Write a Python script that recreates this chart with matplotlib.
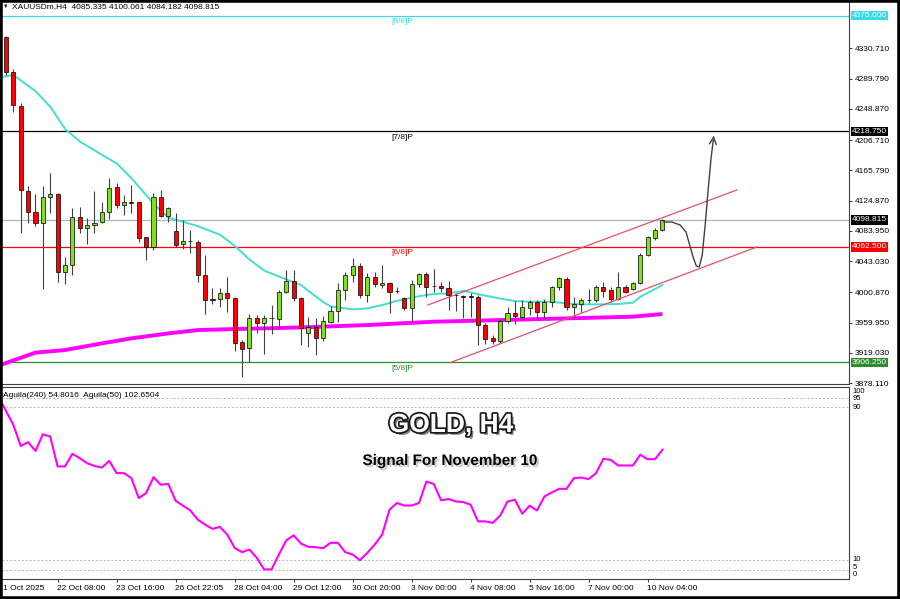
import numpy as np
import matplotlib.pyplot as plt
import matplotlib.patheffects as pe
import matplotlib.transforms as mtransforms
from matplotlib.patches import Rectangle

plt.rcParams['font.family'] = ['Liberation Sans', 'DejaVu Sans']

# H4 candles, XAUUSDm
opens = np.array([4345.8, 4298.4, 4253.4, 4138.4, 4109.1, 4094.3, 4129.4, 4133.5, 4028.0, 4037.9,
                  4102.4, 4087.5, 4092.0, 4095.6, 4110.0, 4143.0, 4119.0, 4122.2, 4123.6, 4076.2,
                  4061.8, 4130.3, 4104.6, 4084.4, 4066.3, 4070.6, 4069.5, 4024.4, 3991.5, 3991.5,
                  3999.6, 3993.8, 3934.3, 3925.3, 3965.8, 3960.0, 3965.8, 3964.5, 4001.9, 4016.7,
                  3992.9, 3946.4, 3954.5, 3938.8, 3961.3, 3976.2, 4004.1, 4024.4, 4036.6, 3997.4,
                  4022.1, 4010.4, 4013.1, 4002.8, 3992.9, 3979.3, 4012.2, 4025.7, 4009.5, 4009.5,
                  4006.4, 3997.6, 3995.3, 3995.3, 3995.1, 3956.8, 3939.7, 3935.6, 3962.6, 3973.5,
                  3968.1, 3979.3, 3988.3, 3974.8, 3988.3, 4007.7, 4019.0, 3980.7, 3985.2, 3990.6,
                  3990.6, 4008.6, 4004.1, 3991.5, 4007.7, 4005.0, 4013.1, 4051.4, 4074.9, 4085.335])
highs = np.array([4347.5, 4302.5, 4257.4, 4144.8, 4133.5, 4144.8, 4161.9, 4135.7, 4048.3, 4114.5,
                  4116.8, 4101.0, 4138.4, 4123.6, 4155.1, 4149.3, 4132.6, 4146.1, 4123.6, 4076.2,
                  4134.8, 4139.3, 4116.0, 4108.7, 4098.8, 4085.3, 4071.7, 4051.4, 4006.4, 4006.4,
                  4021.3, 3995.1, 3936.5, 3971.2, 3970.3, 3970.3, 3983.8, 4004.1, 4031.2, 4031.2,
                  3995.1, 3968.1, 3965.8, 3968.9, 3982.5, 4014.0, 4028.9, 4046.9, 4040.2, 4026.6,
                  4028.9, 4037.9, 4015.4, 4008.6, 3995.1, 4017.6, 4027.5, 4028.9, 4032.1, 4015.4,
                  4016.7, 4000.5, 3997.4, 3999.6, 3997.4, 3959.0, 3943.3, 3964.5, 3980.7, 3989.7,
                  3990.6, 3990.6, 3990.6, 3991.5, 4009.5, 4021.3, 4021.3, 3995.1, 3992.8, 4005.0,
                  4010.9, 4015.4, 4008.6, 4028.9, 4010.9, 4015.4, 4054.6, 4077.1, 4087.5, 4100.061])
lows = np.array([4294.8, 4245.3, 4081.7, 4094.3, 4090.7, 4005.0, 4107.8, 4015.4, 4012.2, 4024.4,
                 4080.8, 4066.3, 4080.8, 4094.3, 4099.7, 4115.5, 4105.5, 4107.8, 4069.5, 4044.7,
                 4058.2, 4102.4, 4096.5, 4062.7, 4059.1, 4054.6, 4015.4, 3971.7, 3985.2, 3980.7,
                 3974.8, 3922.1, 3886.9, 3907.2, 3945.5, 3917.2, 3944.6, 3952.3, 3999.6, 3989.3,
                 3929.8, 3927.5, 3916.2, 3935.6, 3959.0, 3961.3, 3990.6, 4015.4, 3992.8, 3988.3,
                 4007.7, 4006.4, 3972.6, 3999.6, 3977.1, 3962.6, 4007.7, 3995.1, 4001.9, 4001.9,
                 3977.1, 3976.2, 3965.8, 3968.1, 3929.8, 3931.1, 3931.1, 3932.9, 3959.0, 3958.1,
                 3964.5, 3970.3, 3965.8, 3965.8, 3981.6, 4004.1, 3977.1, 3968.1, 3974.8, 3987.0,
                 3988.3, 3995.1, 3988.3, 3990.6, 3999.6, 4004.1, 4012.2, 4050.1, 4071.7, 4084.182])
closes = np.array([4298.4, 4254.3, 4139.3, 4109.1, 4094.3, 4129.4, 4133.9, 4028.0, 4037.9, 4102.4,
                   4087.5, 4092.0, 4094.3, 4110.0, 4142.5, 4119.0, 4123.6, 4122.0, 4074.0, 4061.8,
                   4130.3, 4104.6, 4114.5, 4065.0, 4070.8, 4070.2, 4024.4, 3990.6, 3991.0, 3999.6,
                   3992.9, 3932.9, 3923.9, 3965.8, 3960.0, 3965.8, 3966.2, 4001.9, 4016.7, 3992.9,
                   3952.3, 3954.5, 3938.8, 3962.6, 3976.2, 4004.1, 4024.4, 4036.6, 3997.4, 4022.1,
                   4012.2, 4013.1, 4001.9, 4002.3, 3979.3, 4012.2, 4025.7, 4007.7, 4009.0, 4006.4,
                   3997.4, 3997.2, 3995.1, 3995.0, 3956.8, 3937.4, 3935.6, 3962.6, 3973.5, 3969.0,
                   3980.7, 3988.3, 3974.8, 3988.3, 4007.7, 4019.9, 3980.7, 3985.2, 3990.6, 3991.0,
                   4007.7, 4003.2, 3991.5, 4007.7, 4001.9, 4013.1, 4051.4, 4075.3, 4085.3, 4098.815])

# moving averages (bar index, value)
ma_fast_idx = [-1, 1, 4, 6, 8, 10, 13, 15, 17, 20, 22, 24, 26, 29, 31, 33, 35, 38, 40, 41, 43,
               44, 47, 49, 51, 53, 56, 58, 60, 62, 65, 67, 69, 71, 74, 76, 78, 80, 83, 85, 86, 89]
ma_fast = [4291.5, 4294.8, 4273.0, 4252.0, 4222.0, 4205.0, 4187.0, 4175.4, 4155.5, 4121.0, 4102.0,
           4096.5, 4090.5, 4079.0, 4064.0, 4045.5, 4030.5, 4018.5, 4010.9, 4003.0, 3988.0,
           3982.0, 3978.0, 3979.3, 3983.8, 3989.5, 3995.8, 3998.8, 3999.6, 4003.0, 3996.5,
           3992.7, 3989.2, 3988.3, 3988.3, 3986.0, 3984.7, 3984.7, 3985.2, 3987.0, 3995.0, 4010.9]
ma_slow_idx = [-1, 4, 8, 13, 17, 22, 26, 31, 35, 40, 49, 58, 67, 76, 85, 89]
ma_slow = [3902.0, 3919.5, 3923.0, 3932.0, 3938.8, 3945.5, 3950.0, 3951.4, 3952.3, 3953.6,
           3956.8, 3961.3, 3963.5, 3965.8, 3968.1, 3971.7]

# Murrey levels
levels = [4375.0, 4218.75, 4062.5, 3906.25]
level_names = ['[8/8]P', '[7/8]P', '[6/8]P', '[5/8]P']
level_colors = ['#33dde8', '#000000', '#ff0000', '#2e8b2e']
bid = 4098.815

price_ticks = [4330.710, 4289.790, 4248.870, 4206.710, 4165.790, 4124.870,
               4083.950, 4043.030, 4000.870, 3959.950, 3919.030, 3878.110]

# channel (bar index, price)
chan_upper = ([57.2, 99.1], [3983.9, 4139.4])
chan_lower = ([60.2, 101.8], [3905.9, 4062.3])

# forecast path
fc_x = [89.2, 90.3, 91.4, 92.2, 92.7, 93.2, 93.6, 94.0, 94.4, 94.8, 95.2, 95.6, 95.9]
fc_y = [4096.1, 4096.1, 4092.0, 4082.6, 4065.0, 4047.4, 4036.6, 4035.3, 4051.5, 4092.0,
        4139.3, 4182.6, 4206.9]
fc_tip = (96.0, 4216.4)

# Aguila indicator
agu_idx = list(range(-1, 90))
agu = [95.4, 88.0, 80.7, 69.7, 71.7, 67.1, 75.8, 74.6, 59.0, 59.0, 65.6, 63.3, 60.7, 59.3, 58.4,
       61.9, 55.5, 55.5, 52.9, 42.5, 45.1, 53.4, 49.4, 49.9, 41.1, 38.5, 36.0, 31.2, 28.6, 26.4,
       27.4, 23.4, 16.5, 14.2, 15.6, 11.3, 5.2, 5.2, 13.0, 20.4, 23.0, 18.7, 17.0, 16.8, 16.3,
       19.1, 19.1, 14.2, 13.0, 10.0, 13.9, 18.2, 23.4, 36.4, 39.9, 38.6, 38.6, 39.9, 51.1, 49.8,
       41.3, 42.0, 40.7, 40.4, 39.0, 30.3, 30.3, 29.5, 33.3, 40.7, 41.6, 34.3, 38.5, 36.0, 43.3,
       45.4, 47.3, 47.3, 52.9, 53.2, 52.4, 55.5, 63.0, 62.4, 59.5, 59.5, 59.5, 65.1, 62.8, 62.8, 67.7]

tick_idx = [7, 15, 23, 31, 39, 47, 55, 63, 71, 79, 87]
tick_labels = ['22 Oct 08:00', '23 Oct 16:00', '26 Oct 22:05', '28 Oct 04:00', '29 Oct 12:00',
               '30 Oct 20:00', '3 Nov 00:00', '4 Nov 08:00', '5 Nov 16:00', '7 Nov 00:00',
               '10 Nov 04:00']

W, H = 900, 599
fig = plt.figure(figsize=(9, 5.99), dpi=100)


def px_box(x0, y0, x1, y1):
    return [x0 / W, 1 - y1 / H, (x1 - x0) / W, (y1 - y0) / H]


ax = fig.add_axes(px_box(2, 2, 849, 384))
ax2 = fig.add_axes(px_box(2, 387, 849, 579))

# main price panel
x = np.arange(len(closes))
up = closes >= opens
cols = np.where(up, '#7fe01e', '#ff0000')
for lv, c in zip(levels, level_colors):
    ax.axhline(lv, color=c, lw=0.9, zorder=1)
ax.axhline(bid, color='#aab4c8', lw=0.9, zorder=1)
ax.plot(ma_slow_idx, ma_slow, color='#ff00ff', lw=2.8, zorder=2, solid_capstyle='butt')
ax.plot(ma_fast_idx, ma_fast, color='#40e0d0', lw=1.4, zorder=2)
ax.vlines(x, lows, highs, color='#404040', lw=0.8, zorder=3)
ax.bar(x, np.maximum(np.abs(closes - opens), 0.6), bottom=np.minimum(opens, closes),
       width=0.55, color=cols, edgecolor='black', linewidth=0.5, zorder=4)
ax.plot(*chan_upper, color='#e2506e', lw=0.9, zorder=5)
ax.plot(*chan_lower, color='#e2506e', lw=0.9, zorder=5)
ax.plot(fc_x, fc_y, color='#404040', lw=1.0, zorder=5)
ax.annotate('', xy=fc_tip, xytext=(fc_x[-1], fc_y[-1]),
            arrowprops=dict(arrowstyle='->,head_length=0.5,head_width=0.25', color='#404040', lw=1.0))

for lv, name, c in zip(levels, level_names, level_colors):
    ax.annotate(name, (52.2, lv), xytext=(0, -4.3), textcoords='offset points',
                va='center', ha='left', fontsize=6, color=c)

ax.set_xlim(-0.54, 114.3)
ax.set_ylim(3877.1, 4393.5)
ax.set_xticks([])
ax.yaxis.tick_right()
ax.set_yticks(price_ticks)
ax.set_yticklabels([f'{v:.3f}' for v in price_ticks])
ax.tick_params(axis='y', length=2.5, width=0.8, pad=1.5, labelsize=6, color='#404040')
for s in ['left', 'top']:
    ax.spines[s].set_visible(False)
for s in ['right', 'bottom']:
    ax.spines[s].set_color('#404040')

box_vals = levels + [bid]
box_cols = level_colors + ['#000000']
for v, c in zip(box_vals, box_cols):
    ax.text(1.0035, v, f'{v:.3f}', transform=ax.get_yaxis_transform(), va='center', ha='left',
            fontsize=6, color='white', zorder=10,
            bbox=dict(boxstyle='square,pad=0.15', fc=c, ec='none'))

# indicator panel
for lv in [95, 90, 10, 5]:
    ax2.axhline(lv, color='#b8b8b8', lw=0.7, ls=(0, (2, 2)), zorder=1)
ax2.plot(agu_idx, agu, color='#ff00ff', lw=1.5, zorder=3)
ax2.set_xlim(-0.54, 114.3)
ax2.set_ylim(0.2, 100.5)
ax2.set_yticks([])
ax2.set_xticks(tick_idx)
ax2.set_xticklabels([])
ax2.tick_params(axis='x', length=2.5, width=0.8, color='#404040')
ax2.spines['left'].set_visible(False)
for s in ['right', 'bottom', 'top']:
    ax2.spines[s].set_color('#404040')
for lab, pos in zip(['100', '95', '90', '10', '5', '0'], [98.2, 94.3, 89.8, 10.2, 6.2, 2.4]):
    ax2.text(1.004, pos, lab, transform=ax2.get_yaxis_transform(), va='center', ha='left',
             fontsize=5.5)

xlab_tr = mtransforms.blended_transform_factory(ax2.transData, fig.transFigure)
for i, lab in zip(tick_idx, tick_labels):
    ax2.text(i - 0.15, 1 - 588 / H, lab, transform=xlab_tr, ha='left', va='center', fontsize=6)
fig.text(3 / W, 1 - 588 / H, '1 Oct 2025', ha='left', va='center', fontsize=6)

# texts
fig.text(3 / W, 1 - 6.5 / H, '\u25bc', fontsize=4, va='center', ha='left')
fig.text(12 / W, 1 - 6.5 / H, 'XAUUSDm,H4  4085.335 4100.061 4084.182 4098.815',
         fontsize=6, va='center', ha='left')
fig.text(3 / W, 1 - 395.5 / H, 'Aguila(240) 54.8016  Aguila(50) 102.6504',
         fontsize=6, va='center', ha='left')

fig.text(451 / W, 1 - 425 / H, 'GOLD, H4', fontsize=19, fontweight='bold', color='white',
         ha='center', va='center',
         path_effects=[pe.SimplePatchShadow(offset=(2, -2), shadow_rgbFace='black', alpha=0.5),
                       pe.Stroke(linewidth=2.5, foreground='#1a1a1a'), pe.Normal()])
fig.text(450 / W, 1 - 461 / H, 'Signal For November 10', fontsize=11, fontweight='bold',
         color='black', ha='center', va='center',
         path_effects=[pe.SimplePatchShadow(offset=(1.5, -1.5), shadow_rgbFace='black', alpha=0.22),
                       pe.Normal()])

fig.patches.append(Rectangle((0, 0), 1, 1, transform=fig.transFigure, fill=False,
                             edgecolor='black', linewidth=4, zorder=20))

fig.savefig('out.png', dpi=100)
